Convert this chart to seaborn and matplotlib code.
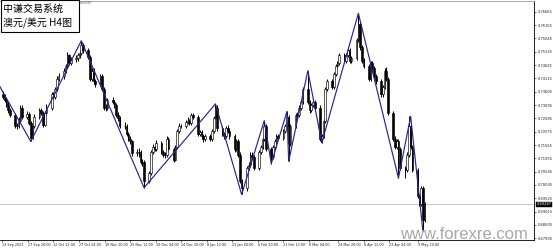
import numpy as np
import pandas as pd
import matplotlib
matplotlib.use("Agg")
import matplotlib.pyplot as plt
import matplotlib.dates as mdates
import matplotlib.transforms as mtransforms
from matplotlib.patches import Rectangle
import seaborn as sns

# ---------------- data (AUD/USD) ----------------
start_date = "2021-09-13"
end_date = "2022-05-13"
first_open = 0.7350

closes = [
    0.7340, 0.7330, 0.7310, 0.7290, 0.7270,
    0.7230, 0.7230, 0.7250, 0.7300, 0.7265,
    0.7275, 0.7240, 0.7185, 0.7230, 0.7265,
    0.7290, 0.7280, 0.7235, 0.7280, 0.7300,
    0.7350, 0.7340, 0.7370, 0.7410, 0.7420,
    0.7440, 0.7460, 0.7500, 0.7470, 0.7485,
    0.7490, 0.7500, 0.7510, 0.7540, 0.7520,
    0.7495, 0.7410, 0.7440, 0.7400, 0.7390,
    0.7420, 0.7370, 0.7300, 0.7300, 0.7330,
    0.7320, 0.7310, 0.7270, 0.7260, 0.7230,
    0.7230, 0.7200, 0.7180, 0.7170, 0.7125,
    0.7130, 0.7130, 0.7090, 0.7090, 0.7020,
    0.7050, 0.7130, 0.7150, 0.7140, 0.7165,
    0.7130, 0.7120, 0.7120, 0.7180, 0.7140,
    0.7100, 0.7150, 0.7210, 0.7230, 0.7230,
    0.7245, 0.7250, 0.7240, 0.7270, 0.7265,
    0.7200, 0.7205, 0.7190, 0.7180, 0.7190,
    0.7180, 0.7210, 0.7260, 0.7300, 0.7220,
    0.7200, 0.7190, 0.7220, 0.7210, 0.7190,
    0.7140, 0.7170, 0.7120, 0.7020, 0.6990,
    0.7070, 0.7080, 0.7120, 0.7110, 0.7070,
    0.7130, 0.7150, 0.7180, 0.7230, 0.7140,
    0.7110, 0.7150, 0.7170, 0.7190, 0.7185,
    0.7210, 0.7230, 0.7265, 0.7160, 0.7230,
    0.7270, 0.7270, 0.7300, 0.7320, 0.7370,
    0.7320, 0.7290, 0.7310, 0.7320, 0.7300,
    0.7180, 0.7190, 0.7250, 0.7370, 0.7400,
    0.7380, 0.7430, 0.7460, 0.7470, 0.7500,
    0.7480, 0.7500, 0.7520, 0.7480, 0.7490,
    0.7560, 0.7620, 0.7530, 0.7480, 0.7460,
    0.7410, 0.7470, 0.7450, 0.7420, 0.7400,
    0.7350, 0.7380, 0.7440, 0.7410, 0.7280,
    0.7180, 0.7150, 0.7170, 0.7140, 0.7070,
    0.7060, 0.7120, 0.7230, 0.7150, 0.7060,
    0.6960, 0.6930, 0.6990, 0.6870, 0.6929,
]
highs = [
    0.7362, 0.7350, 0.7338, 0.7320, 0.7298,
    0.7278, 0.7242, 0.7262, 0.7310, 0.7308,
    0.7285, 0.7282, 0.7248, 0.7238, 0.7274,
    0.7300, 0.7298, 0.7286, 0.7288, 0.7312,
    0.7358, 0.7360, 0.7378, 0.7420, 0.7432,
    0.7450, 0.7468, 0.7512, 0.7506, 0.7494,
    0.7500, 0.7510, 0.7522, 0.7556, 0.7548,
    0.7528, 0.7502, 0.7450, 0.7450, 0.7410,
    0.7430, 0.7428, 0.7378, 0.7312, 0.7338,
    0.7342, 0.7330, 0.7318, 0.7282, 0.7268,
    0.7245, 0.7238, 0.7208, 0.7190, 0.7176,
    0.7140, 0.7145, 0.7138, 0.7102, 0.7098,
    0.7058, 0.7138, 0.7162, 0.7158, 0.7175,
    0.7172, 0.7138, 0.7130, 0.7190, 0.7188,
    0.7148, 0.7158, 0.7218, 0.7240, 0.7238,
    0.7254, 0.7262, 0.7258, 0.7278, 0.7280,
    0.7272, 0.7215, 0.7214, 0.7198, 0.7198,
    0.7198, 0.7218, 0.7268, 0.7314, 0.7308,
    0.7228, 0.7208, 0.7230, 0.7232, 0.7218,
    0.7198, 0.7178, 0.7178, 0.7128, 0.7028,
    0.7078, 0.7090, 0.7130, 0.7128, 0.7118,
    0.7138, 0.7158, 0.7188, 0.7250, 0.7238,
    0.7148, 0.7158, 0.7178, 0.7198, 0.7198,
    0.7218, 0.7238, 0.7285, 0.7272, 0.7238,
    0.7278, 0.7282, 0.7310, 0.7330, 0.7380,
    0.7441, 0.7328, 0.7318, 0.7330, 0.7328,
    0.7308, 0.7198, 0.7258, 0.7378, 0.7410,
    0.7408, 0.7438, 0.7468, 0.7480, 0.7508,
    0.7508, 0.7508, 0.7530, 0.7528, 0.7498,
    0.7568, 0.7661, 0.7628, 0.7538, 0.7488,
    0.7468, 0.7478, 0.7478, 0.7458, 0.7428,
    0.7408, 0.7388, 0.7452, 0.7455, 0.7418,
    0.7288, 0.7190, 0.7178, 0.7178, 0.7148,
    0.7078, 0.7128, 0.7266, 0.7238, 0.7158,
    0.7068, 0.6968, 0.6998, 0.6998, 0.6938,
]
lows = [
    0.7332, 0.7322, 0.7302, 0.7280, 0.7262,
    0.7222, 0.7218, 0.7222, 0.7244, 0.7256,
    0.7256, 0.7232, 0.7170, 0.7178, 0.7222,
    0.7256, 0.7270, 0.7226, 0.7228, 0.7272,
    0.7292, 0.7332, 0.7332, 0.7362, 0.7402,
    0.7410, 0.7432, 0.7452, 0.7462, 0.7462,
    0.7474, 0.7480, 0.7490, 0.7502, 0.7510,
    0.7486, 0.7402, 0.7402, 0.7392, 0.7378,
    0.7382, 0.7362, 0.7290, 0.7286, 0.7292,
    0.7312, 0.7300, 0.7262, 0.7250, 0.7222,
    0.7218, 0.7192, 0.7172, 0.7160, 0.7116,
    0.7115, 0.7110, 0.7082, 0.7078, 0.6993,
    0.7010, 0.7042, 0.7122, 0.7132, 0.7132,
    0.7122, 0.7112, 0.7105, 0.7112, 0.7132,
    0.7090, 0.7094, 0.7142, 0.7202, 0.7222,
    0.7222, 0.7236, 0.7232, 0.7232, 0.7256,
    0.7192, 0.7192, 0.7182, 0.7168, 0.7172,
    0.7170, 0.7172, 0.7202, 0.7252, 0.7212,
    0.7192, 0.7180, 0.7182, 0.7202, 0.7180,
    0.7130, 0.7132, 0.7112, 0.7010, 0.6967,
    0.6982, 0.7062, 0.7072, 0.7102, 0.7062,
    0.7062, 0.7122, 0.7142, 0.7172, 0.7132,
    0.7085, 0.7102, 0.7142, 0.7162, 0.7176,
    0.7176, 0.7202, 0.7222, 0.7094, 0.7152,
    0.7222, 0.7260, 0.7262, 0.7292, 0.7312,
    0.7312, 0.7280, 0.7282, 0.7302, 0.7292,
    0.7172, 0.7165, 0.7182, 0.7242, 0.7362,
    0.7372, 0.7372, 0.7422, 0.7452, 0.7462,
    0.7472, 0.7472, 0.7492, 0.7472, 0.7472,
    0.7482, 0.7552, 0.7522, 0.7472, 0.7452,
    0.7402, 0.7402, 0.7442, 0.7412, 0.7392,
    0.7342, 0.7342, 0.7372, 0.7400, 0.7272,
    0.7172, 0.7142, 0.7142, 0.7030, 0.7062,
    0.7030, 0.7052, 0.7112, 0.7142, 0.7052,
    0.6952, 0.6922, 0.6922, 0.6829, 0.6862,
]

pivot_dates = [
    "2021-09-03 12:00", "2021-09-29 12:00", "2021-10-28 12:00", "2021-12-03 12:00",
    "2022-01-13 12:00", "2022-01-28 12:00", "2022-02-10 12:00", "2022-02-14 12:00",
    "2022-02-23 12:00", "2022-02-24 12:00", "2022-03-07 12:00", "2022-03-15 12:00",
    "2022-04-05 12:00", "2022-04-28 12:00", "2022-05-05 12:00", "2022-05-12 12:00",
]
pivot_prices = [
    0.7478, 0.7170, 0.7556, 0.6993,
    0.7314, 0.6967, 0.7250, 0.7085,
    0.7285, 0.7094, 0.7441, 0.7165,
    0.7661, 0.7030, 0.7266, 0.6829,
]

x_tick_dates = [
    "2021-09-13 00:00", "2021-09-27 20:00", "2021-10-12 12:00", "2021-10-27 04:00",
    "2021-11-10 20:00", "2021-11-25 12:00", "2021-12-10 04:00", "2021-12-24 20:00",
    "2022-01-08 12:00", "2022-01-23 04:00", "2022-02-06 20:00", "2022-02-21 12:00",
    "2022-03-08 04:00", "2022-03-24 20:00", "2022-04-08 12:00", "2022-04-23 04:00",
    "2022-05-09 20:00",
]
x_tick_labels = [
    "13 Sep 2021", "27 Sep 20:00", "12 Oct 12:00", "27 Oct 04:00",
    "10 Nov 20:00", "25 Nov 12:00", "10 Dec 04:00", "24 Dec 20:00",
    "8 Jan 12:00", "23 Jan 04:00", "6 Feb 20:00", "21 Feb 12:00",
    "8 Mar 04:00", "24 Mar 20:00", "8 Apr 12:00", "23 Apr 04:00",
    "9 May 20:00",
]
y_ticks = [
    0.76665, 0.76155, 0.75645, 0.75135, 0.74625, 0.74115,
    0.73605, 0.73095, 0.72585, 0.72075, 0.71565, 0.71055,
    0.70545, 0.70035, 0.69525, 0.69015, 0.68505, 0.67995,
]
y_tick_labels = [
    "0.76665", "0.76155", "0.75645", "0.75135", "0.74625", "0.74115",
    "0.73605", "0.73095", "0.72585", "0.72075", "0.71565", "0.71055",
    "0.70545", "0.70035", "0.69525", "0.69015", "0.68505", "0.67995",
]
bid_price = 0.69287
bid_label = "0.69287"
x_range = ["2021-09-11 20:00", "2022-07-15 07:00"]
y_range = [0.67927, 0.77081]
title_lines = ["中谦交易系统", "澳元/美元 H4图"]
watermark = "www.forexre.com"
header_text = "0.69287"

# ---------------- styling ----------------
sns.set_theme(style="white")
plt.rcParams["font.family"] = ["DejaVu Sans", "Noto Sans CJK SC"]
cjk = ["Noto Sans CJK SC", "DejaVu Sans"]

W, H = 553, 249
fig = plt.figure(figsize=(W / 100, H / 100), dpi=100)
fig.patch.set_facecolor("white")
ax = fig.add_axes([0 / W, 9 / H, 534 / W, 239 / H])
ax.set_facecolor("white")

# ---------------- candles ----------------
days = pd.bdate_range(start_date, end_date) + pd.Timedelta(hours=12)
opens = [first_open] + closes[:-1]
df = pd.DataFrame({"date": days, "open": opens, "high": highs, "low": lows, "close": closes})
body_lo = df[["open", "close"]].min(axis=1)
body_hi = df[["open", "close"]].max(axis=1)
wick_lo = np.minimum(df["low"], body_lo)
wick_hi = np.maximum(df["high"], body_hi)
ax.vlines(df["date"], wick_lo, wick_hi, color="black", lw=0.7, zorder=2)
bull = df["close"] >= df["open"]
ax.bar(df["date"][bull], (body_hi - body_lo)[bull], bottom=body_lo[bull], width=0.95,
       color="white", edgecolor="black", lw=0.45, zorder=3)
ax.bar(df["date"][~bull], (body_hi - body_lo)[~bull], bottom=body_lo[~bull], width=0.95,
       color="black", edgecolor="black", lw=0.45, zorder=3)

# ---------------- zigzag ----------------
zz = pd.DataFrame({"date": pd.to_datetime(pivot_dates), "price": pivot_prices})
sns.lineplot(data=zz, x="date", y="price", ax=ax, color="#25258f", lw=0.85,
             estimator=None, sort=False, zorder=4)

# bid line
ax.axhline(bid_price, color="#bdbdbd", lw=0.6, zorder=1)

ax.set_xlim(mdates.date2num(pd.to_datetime(x_range[0])), mdates.date2num(pd.to_datetime(x_range[1])))
ax.set_ylim(*y_range)
ax.set_xlabel("")
ax.set_ylabel("")

ax.set_xticks(mdates.date2num(pd.to_datetime(x_tick_dates)))
ax.set_xticklabels(x_tick_labels, ha="left", fontsize=2.4, color="#222222")
ax.yaxis.tick_right()
ax.set_yticks(y_ticks)
ax.set_yticklabels(y_tick_labels, fontsize=2.6, color="#222222")
ax.tick_params(axis="x", bottom=True, length=1.6, width=0.4, pad=0.8, color="black")
ax.tick_params(axis="y", right=True, left=False, length=1.6, width=0.4, pad=1.2, color="black")
ax.grid(False)

ax.spines["left"].set_visible(False)
ax.spines["top"].set_color("#a0a0a0")
ax.spines["top"].set_linewidth(0.6)
for s in ("right", "bottom"):
    ax.spines[s].set_color("black")
    ax.spines[s].set_linewidth(0.6)

# bid price box on the price axis
trans = mtransforms.blended_transform_factory(ax.transAxes, ax.transData)
ax.text(1.0 + 2.5 / 534, bid_price, bid_label, transform=trans, ha="left", va="center",
        fontsize=2.6, color="white", zorder=6, clip_on=False,
        bbox=dict(boxstyle="square,pad=0.2", fc="black", ec="black", lw=0.3))

# title box
fig.add_artist(Rectangle((0.5 / W, (H - 32.5) / H), 78.5 / W, 32 / H,
                         transform=fig.transFigure, fc="white", ec="black", lw=0.8, zorder=10))
fig.text(3 / W, (H - 9) / H, title_lines[0], fontsize=7.2, family=cjk, va="center",
         ha="left", color="black", zorder=11)
fig.text(3 / W, (H - 23) / H, title_lines[1], fontsize=7.2, family=cjk, va="center",
         ha="left", color="black", zorder=11)
fig.text(80 / W, (H - 3.5) / H, header_text, fontsize=2.2, color="#555555", va="center",
         ha="left", zorder=11)

# watermark
fig.text(400 / W, 10 / H, watermark, fontsize=12.0, family="Liberation Sans", color="#a4a4a4",
         va="baseline", ha="left", alpha=0.95, zorder=12)

fig.savefig("out.png", dpi=100)
